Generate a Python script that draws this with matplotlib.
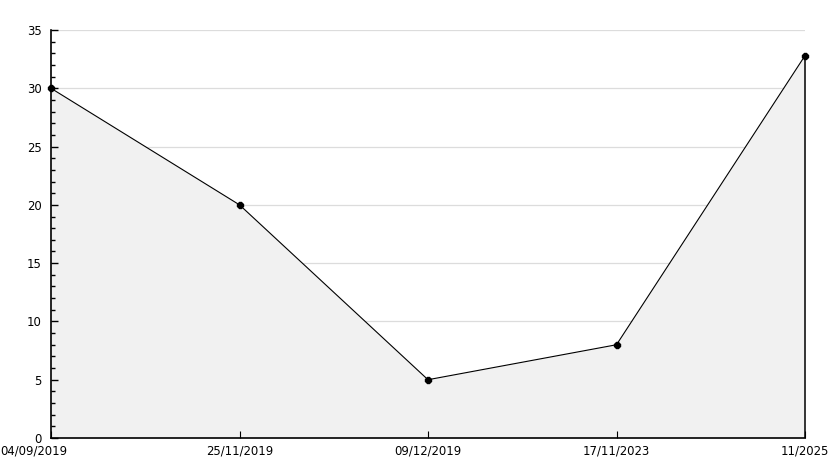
import matplotlib.pyplot as plt
import numpy as np
from matplotlib.ticker import MultipleLocator

dates = ["04/09/2019", "25/11/2019", "09/12/2019", "17/11/2023", "11/2025"]
values = [30, 20, 5, 8, 32.8]

fig = plt.figure(figsize=(8.34, 4.68), dpi=100)
ax = fig.add_axes([51 / 834, 30 / 468, 754 / 834, 408 / 468])

x = np.arange(len(dates))
ax.set_xlim(x[0], x[-1])
ax.set_ylim(0, 35)
ax.yaxis.set_major_locator(MultipleLocator(5))
ax.yaxis.set_minor_locator(MultipleLocator(1))

# grid sits below the fill
for yv in np.arange(5, 36, 5):
    ax.axhline(yv, color="#dcdcdc", lw=0.9, zorder=0.3)

ax.fill_between(x, values, 0, color="#f1f1f1", lw=0, zorder=0.6)
ax.plot(x, values, color="black", lw=0.8, zorder=3,
        marker="8", ms=5, mfc="black", mec="black", clip_on=False)
ax.vlines(x[-1], 0, values[-1], color="black", lw=1.1, zorder=2,
          clip_on=False)

ax.set_xticks(x)
ax.set_xticklabels([])
for xi, lab in zip(x, dates):
    ha = "left" if xi == x[0] else "center"
    xo = -51 / 754 * (x[-1] - x[0]) if xi == x[0] else xi
    ax.text(xo, -0.016, lab, transform=ax.get_xaxis_transform(),
            ha=ha, va="top", fontsize=8.4, clip_on=False)

for sp in ("top", "right"):
    ax.spines[sp].set_visible(False)
for sp in ("left", "bottom"):
    ax.spines[sp].set_linewidth(1.2)

ax.tick_params(axis="y", which="major", direction="in", length=5, width=1,
               labelsize=8.4, pad=6.5)
ax.tick_params(axis="y", which="minor", direction="in", length=3, width=1)
ax.tick_params(axis="x", direction="in", length=5, width=0.8)
ax.set_axisbelow(False)

fig.savefig("out.png", dpi=100)
